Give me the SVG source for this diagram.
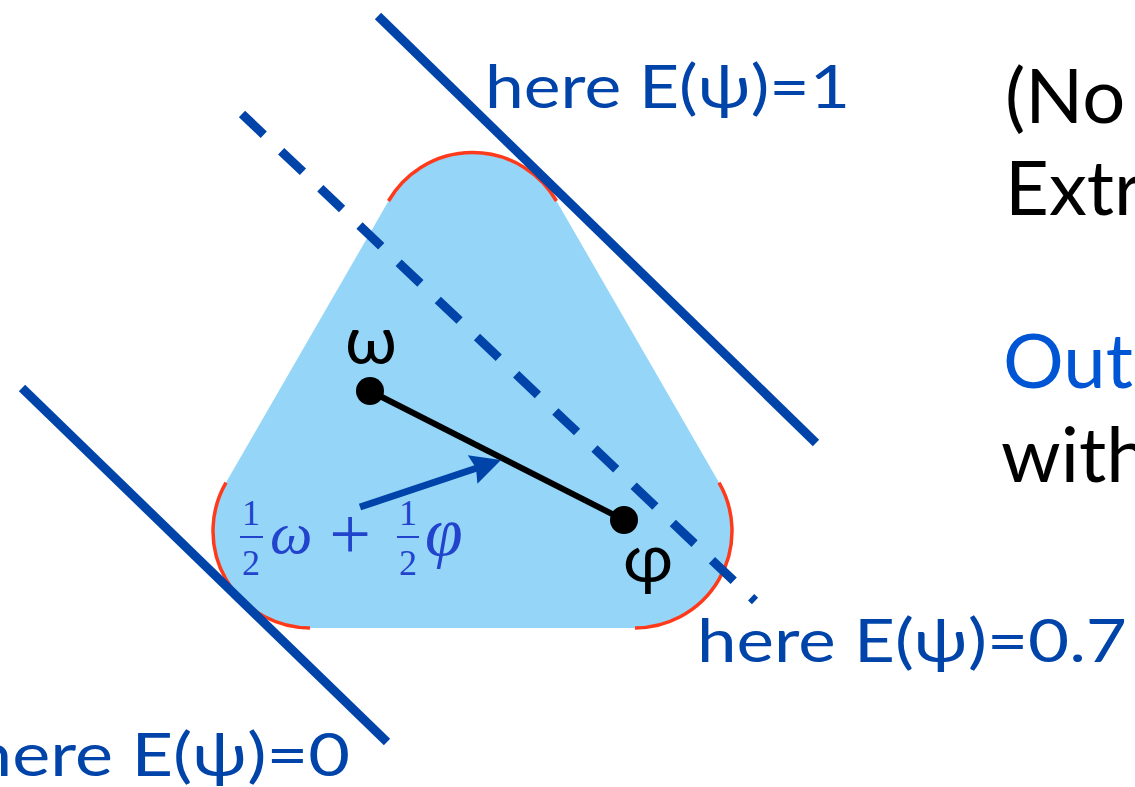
<svg xmlns="http://www.w3.org/2000/svg" width="1135" height="787" viewBox="0 0 1135 787">
<defs>
<style>
.lbl{font-family:Lato,"Open Sans","DejaVu Sans",sans-serif;fill:#0044aa;font-size:60px}
.side{font-family:Lato,"Open Sans","DejaVu Sans",sans-serif;font-size:76px;fill:#000}
.side.hl{fill:#0055d4}
.greek{font-family:Lato,"Open Sans","DejaVu Sans",sans-serif;font-size:68px;fill:#000}
.math{font-family:"Liberation Serif","DejaVu Serif",serif;fill:#2244cc}
.lev{stroke:#0044aa;stroke-width:9;fill:none}
.red{stroke:#ff3a1a;stroke-width:3.5;fill:none}
</style>
</defs>
<rect width="1135" height="787" fill="#fff"/>
<g id="region">
<path d="M310,628 A97,97 0 0 1 226,482.5 L388.5,201 A97,97 0 0 1 556.5,201 L719,482.5 A97,97 0 0 1 635,628 Z" fill="#95d6f8"/>
<path class="red" d="M310,628 A97,97 0 0 1 226,482.5"/>
<path class="red" d="M388.5,201 A97,97 0 0 1 556.5,201"/>
<path class="red" d="M719,482.5 A97,97 0 0 1 635,628"/>
</g>
<g id="connectors">
<line class="lev" x1="378" y1="16" x2="816" y2="443"/>
<line class="lev" x1="242" y1="114" x2="755" y2="601" stroke-dasharray="30 24"/>
<line class="lev" x1="22" y1="388" x2="387" y2="742"/>
<line x1="370" y1="391" x2="624" y2="520" stroke="#000" stroke-width="6"/>
<line x1="360" y1="507" x2="480" y2="467" stroke="#0044aa" stroke-width="7"/>
<path d="M501,460 L467.8,455.3 L476,468 L477.4,483.7 Z" fill="#0044aa"/>
</g>
<g id="omega">
<circle cx="370" cy="391" r="14" fill="#000"/>
<text class="greek" x="345" y="364">ω</text>
</g>
<g id="phi">
<circle cx="624" cy="520" r="14" fill="#000"/>
<text class="greek" x="623" y="582">φ</text>
</g>
<g id="midpoint-label">
<text class="math" x="251" y="525" font-size="36" text-anchor="middle">1</text>
<line x1="240" y1="537" x2="263" y2="537" stroke="#2244cc" stroke-width="2"/>
<text class="math" x="251" y="575" font-size="36" text-anchor="middle">2</text>
<text class="math" x="270" y="553" font-size="60" font-style="italic">ω</text>
<text class="math" x="350" y="559" font-size="74" text-anchor="middle">+</text>
<text class="math" x="408" y="525" font-size="36" text-anchor="middle">1</text>
<line x1="397" y1="537" x2="419" y2="537" stroke="#2244cc" stroke-width="2"/>
<text class="math" x="408" y="575" font-size="36" text-anchor="middle">2</text>
<text class="math" x="425" y="555" font-size="68" font-style="italic">φ</text>
</g>
<g id="level-labels">
<text class="lbl" x="485" y="108" textLength="365" lengthAdjust="spacingAndGlyphs">here E(ψ)=1</text>
<text class="lbl" x="697" y="662" textLength="430" lengthAdjust="spacingAndGlyphs">here E(ψ)=0.7</text>
<text class="lbl" x="-28" y="776" textLength="378" lengthAdjust="spacingAndGlyphs">here E(ψ)=0</text>
</g>
<g id="side-text">
<text class="side" x="1005" y="123">(No</text>
<text class="side" x="1005" y="215">Extr</text>
<text class="side hl" x="1003" y="388">Out</text>
<text class="side" x="1001" y="482">with</text>
</g>
</svg>
